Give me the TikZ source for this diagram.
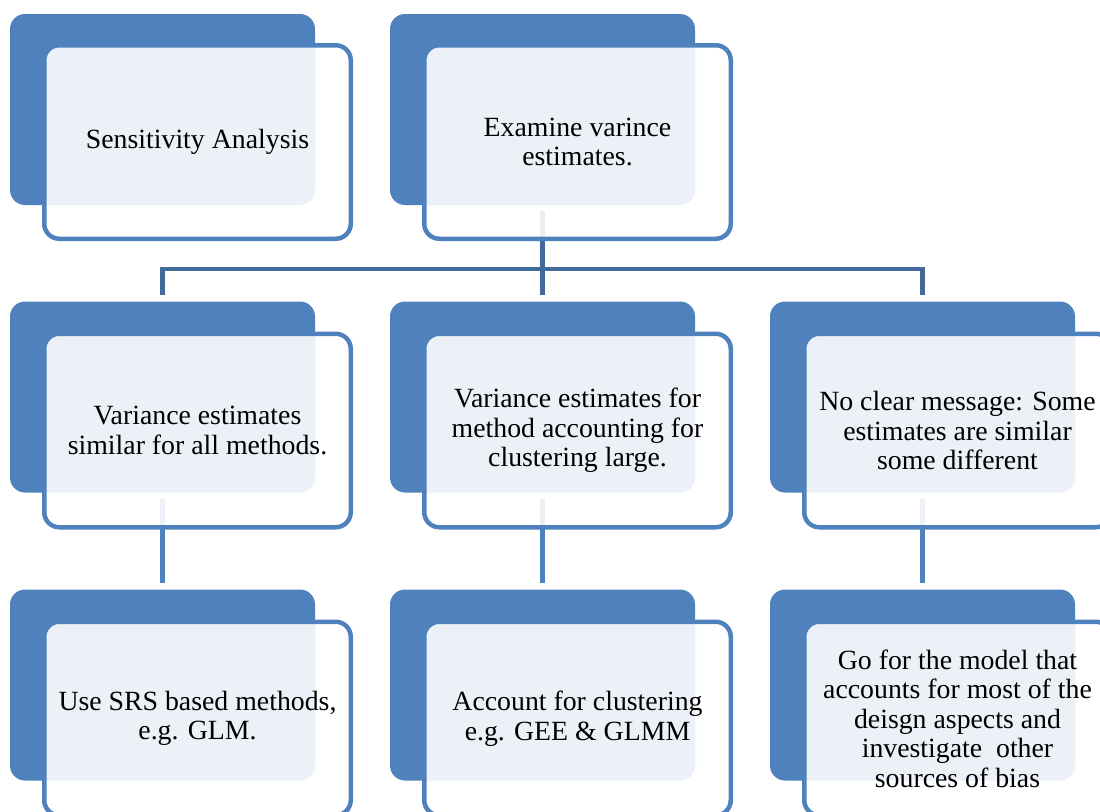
\documentclass[tikz,border=0pt]{standalone}
\usepackage{fontspec}
\setmainfont{Liberation Serif}
\definecolor{accent}{HTML}{4F81BD}
\definecolor{darkconn}{HTML}{41699A}
\tikzset{
  backbox/.style={fill=accent, draw=none, rounded corners=15pt, minimum width=305pt, minimum height=191pt, inner sep=0pt},
  frontbox/.style={fill=white, fill opacity=0.89, text opacity=1, draw=accent, draw opacity=1, line width=4.5pt, rounded corners=15pt, minimum width=306.5pt, minimum height=193.5pt, inner sep=0pt, align=center, font=\fontsize{27.8}{29.5}\selectfont},
  upconn/.style={draw=darkconn, line width=4.5pt},
  lowconn/.style={draw=accent, line width=4.5pt}
}
\begin{document}
\begin{tikzpicture}[x=1pt,y=-1pt]
\useasboundingbox (0,0) rectangle (1100,811);
\clip (0,0) rectangle (1100,811);
% back boxes
\node[backbox] (b1) at (162.5,109.5) {};
\node[backbox] (b2) at (542.5,109.5) {};
\node[backbox] (m1) at (162.5,397) {};
\node[backbox] (m2) at (542.5,397) {};
\node[backbox] (m3) at (922.5,397) {};
\node[backbox] (l1) at (162.5,685) {};
\node[backbox] (l2) at (542.5,685) {};
\node[backbox] (l3) at (922.5,685) {};
% connectors
\coordinate (bus) at (542.5,269);
\draw[upconn] ([yshift=-6pt]b2.south) -- (bus);
\draw[upconn] ([yshift=6pt]m1.north) |- (bus) -| ([yshift=6pt]m3.north);
\draw[upconn] (bus) -- ([yshift=6pt]m2.north);
\draw[lowconn] ([yshift=-6pt]m1.south) -- ([yshift=6pt]l1.north);
\draw[lowconn] ([yshift=-6pt]m2.south) -- ([yshift=6pt]l2.north);
\draw[lowconn] ([yshift=-6pt]m3.south) -- ([yshift=6pt]l3.north);
% front boxes
\node[frontbox] (f1) at (197.5,142) {Sensitivity Analysis};
\node[frontbox] (f2) at (577.5,142) {Examine varince\\estimates.};
\node[frontbox] (g1) at (197.5,430.5) {Variance estimates\\similar for all methods.};
\node[frontbox] (g2) at (577.5,430.5) {Variance estimates for\\method accounting for\\clustering large.};
\node[frontbox] (g3) at (957.5,430.5) {No clear message: Some\\estimates are similar\\some different};
\node[frontbox] (h1) at (197.5,718.5) {Use SRS based methods,\\e.g. GLM.};
\node[frontbox] (h2) at (577.5,718.5) {Account for clustering\\e.g. GEE \& GLMM};
\node[frontbox] (h3) at (957.5,718.5) {Go for the model that\\accounts for most of the\\deisgn aspects and\\investigate\ \ other\\sources of bias};
\end{tikzpicture}
\end{document}
